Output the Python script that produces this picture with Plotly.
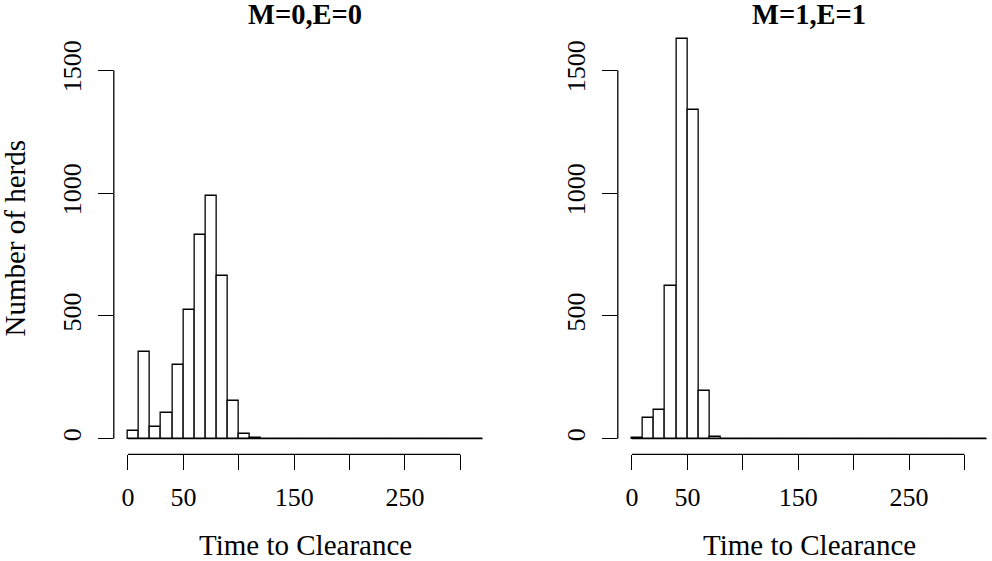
import plotly.graph_objects as go

W, H = 992, 561
FONT = "Liberation Serif"

# histogram bins (width 10) and counts
bin_edges = list(range(0, 330, 10))
counts_m0e0 = [31, 352, 46, 103, 299, 523, 829, 989, 662, 155, 20, 4,
               0, 0, 0, 0, 0, 0, 0, 0, 0, 0, 0, 0, 0, 0, 0, 0, 0, 0, 0, 0]
counts_m1e1 = [5, 84, 118, 623, 1626, 1339, 196, 7,
               0, 0, 0, 0, 0, 0, 0, 0, 0, 0, 0, 0, 0, 0, 0, 0,
               0, 0, 0, 0, 0, 0, 0, 0]
panel_titles = ["M=0,E=0", "M=1,E=1"]

x_tickvals = [0, 50, 100, 150, 200, 250, 300]
x_ticktext = ["0", "50", "", "150", "", "250", ""]
y_tickvals = [0, 500, 1000, 1500]
y_ticktext = ["0", "500", "1000", "1500"]
x_label = "Time to Clearance"
y_label = "Number of herds"


def px_x(p):
    return p / W


def px_y(p):
    return 1 - p / H


# pixel boxes of the two plot regions (R style, 4% padding on each side)
panels = [
    dict(counts=counts_m0e0, left=113.8, right=496.7, xmax=332.8, centre=305.3),
    dict(counts=counts_m1e1, left=617.8, right=992.0, xmax=324.9, centre=809.2),
]
top_px, bottom_px = 29.9, 454.4

centres = [(a + b) / 2 for a, b in zip(bin_edges[:-1], bin_edges[1:])]

fig = go.Figure()
shapes = []
annotations = []
layout = {}

for i, p in enumerate(panels):
    n = "" if i == 0 else str(i + 1)
    fig.add_trace(go.Bar(
        x=centres, y=p["counts"], width=10,
        marker=dict(color="white", line=dict(color="black", width=1.3)),
        xaxis="x" + n, yaxis="y" + n, hoverinfo="x+y",
    ))
    # zero-height bins show up as a flat line in R
    fig.add_trace(go.Scatter(
        x=[bin_edges[0], bin_edges[-1]], y=[0, 0], mode="lines",
        line=dict(color="black", width=1.3),
        xaxis="x" + n, yaxis="y" + n, hoverinfo="skip",
    ))

    layout["xaxis" + n] = dict(
        domain=[px_x(p["left"]), px_x(p["right"])],
        range=[-12.8, p["xmax"]], anchor="y" + n,
        tickvals=x_tickvals, ticktext=x_ticktext,
        ticks="outside", ticklen=15, tickwidth=1.3, tickcolor="black",
        ticklabelstandoff=4,
        showline=False, showgrid=False, zeroline=False,
        tickfont=dict(family=FONT, size=26, color="black"),
    )
    layout["yaxis" + n] = dict(
        domain=[px_y(bottom_px), px_y(top_px)],
        range=[-64, 1664], anchor="x" + n,
        tickvals=y_tickvals, ticktext=y_ticktext, tickangle=-90,
        ticks="outside", ticklen=15, tickwidth=1.3, tickcolor="black",
        ticklabelstandoff=6,
        showline=False, showgrid=False, zeroline=False,
        tickfont=dict(family=FONT, size=26, color="black"),
    )

    # detached R-style axis lines
    shapes.append(dict(type="line", xref="x" + n, yref="y" + n + " domain",
                       x0=x_tickvals[0], x1=x_tickvals[-1], y0=0, y1=0,
                       line=dict(color="black", width=1.3)))
    shapes.append(dict(type="line", xref="x" + n + " domain", yref="y" + n,
                       x0=0, x1=0, y0=y_tickvals[0], y1=y_tickvals[-1],
                       line=dict(color="black", width=1.3)))

    annotations.append(dict(text="<b>" + panel_titles[i] + "</b>", x=px_x(p["centre"]),
                            y=px_y(15), xref="paper", yref="paper",
                            xanchor="center", yanchor="middle", showarrow=False,
                            font=dict(family=FONT, size=28.5, color="black")))
    annotations.append(dict(text=x_label, x=px_x(p["centre"]), y=px_y(545),
                            xref="paper", yref="paper",
                            xanchor="center", yanchor="middle", showarrow=False,
                            font=dict(family=FONT, size=29, color="black")))

annotations.append(dict(text=y_label, x=px_x(15), y=px_y(238.5), textangle=-90,
                        xref="paper", yref="paper",
                        xanchor="center", yanchor="middle", showarrow=False,
                        font=dict(family=FONT, size=29, color="black")))

fig.update_layout(
    **layout,
    shapes=shapes,
    annotations=annotations,
    width=W, height=H,
    margin=dict(l=0, r=0, t=0, b=0),
    template="none",
    plot_bgcolor="white", paper_bgcolor="white",
    showlegend=False,
    bargap=0,
)

# drop the browser's default body margin so the figure sits at the window corner
fig.write_html("out.html", config={"displayModeBar": False},
               post_script="document.body.style.margin='0';")
